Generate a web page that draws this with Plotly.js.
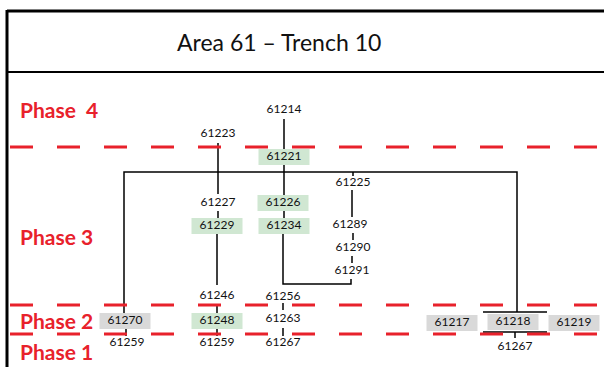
<!DOCTYPE html>
<html><head><meta charset="utf-8">
<script src="https://cdn.plot.ly/plotly-3.0.1.min.js"></script>
<style>html,body{margin:0;padding:0;background:#fff;}#chart{width:604px;height:367px;}</style>
</head><body><div id="chart"></div>
<script>
// Context units (Harris matrix)
const nodeLabels = ['61214','61223','61221','61227','61226','61229','61234','61225','61289','61290','61291','61246','61256','61270','61248','61263','61259','61259','61267','61217','61218','61219','61267'];
const nodeX = [284,218,284,218,283,217,284,353,350,353,352,217,283,125,217,283,127,217,283,452,513,574,515];
const nodeY = [110,134,157,203,203,226,226,183,225,248,271,296,297,321,321,319,343,343,343,323,322,323,347];
const nodeFill = ['','','green','','green','green','green','','','','','','','grey','green','','','','','grey','grey','grey',''];

// Stratigraphic relation lines (null separates segments)
const linkX = [284,284,null,218,218,null,284,284,null,284,284,null,218,218,null,
  124,124,517,517,null,353,353,null,352,352,null,353,353,null,352,352,null,
  283,283,351,351,null,217,217,null,217,217,null,217,217,null,126,126,null,
  283,283,null,283,283,null,483,547,null,483,547,null,515,515];
const linkY = [119,149,null,143,194,null,165,195,null,211,218,null,211,218,null,
  313,172,172,312,null,172,176,null,190,217,null,233,240,null,256,263,null,
  234,284,284,279,null,234,285,null,304,313,null,329,336,null,329,336,null,
  303,310,null,328,336,null,312,312,null,332,332,null,332,338];

// Phase labels and boundaries
const phaseLabels = ['Phase  4','Phase 3','Phase 2','Phase 1'];
const phaseY = [109,236,320,351];
const boundaryY = [147,305,334];
const title = 'Area 61 \u2013 Trench 10';

const traces = [];
traces.push({x:linkX, y:linkY, mode:'lines', line:{color:'#000', width:1.5}, hoverinfo:'skip', showlegend:false});
traces.push({x:nodeX, y:nodeY, mode:'text', text:nodeLabels, textposition:'middle center',
  textfont:{family:'Lato, "Open Sans", sans-serif', size:12, color:'#111'}, hoverinfo:'skip', showlegend:false});

const shapes = [];
// frame
shapes.push({type:'line', x0:7, x1:604, y0:11, y1:11, line:{color:'#000', width:3}});
shapes.push({type:'line', x0:7, x1:7, y0:10, y1:367, line:{color:'#000', width:3}});
shapes.push({type:'line', x0:7, x1:604, y0:72, y1:72, line:{color:'#000', width:2}});
// boxes
const fills = {green:'#D0E7D2', grey:'#D9D9D9'};
nodeLabels.forEach((l,i)=>{
  if(nodeFill[i]){
    shapes.push({type:'rect', layer:'below', x0:nodeX[i]-25.5, x1:nodeX[i]+25.5, y0:nodeY[i]-8, y1:nodeY[i]+8,
      fillcolor:fills[nodeFill[i]], line:{width:0}});
  }
});
// phase boundaries
boundaryY.forEach(y=>{
  shapes.push({type:'line', layer:'above', x0:10, x1:604, y0:y, y1:y, line:{color:'#E8212B', width:3, dash:'23px,24px'}});
});

const annotations = [];
annotations.push({x:279, y:42, text:title, showarrow:false, xanchor:'center', yanchor:'middle',
  font:{family:'Lato, "Open Sans", sans-serif', size:23, color:'#111'}});
phaseLabels.forEach((p,i)=>{
  annotations.push({x:18, y:phaseY[i], text:'<b>'+p.replace(/ /g,'&nbsp;')+'</b>', showarrow:false, xanchor:'left', yanchor:'middle',
    font:{family:'Lato, "Open Sans", sans-serif', size:21, color:'#E8212B'}});
});

const layout = {
  width:604, height:367, margin:{l:0,r:0,t:0,b:0},
  paper_bgcolor:'#fff', plot_bgcolor:'#fff',
  xaxis:{range:[0,604], visible:false, fixedrange:true},
  yaxis:{range:[367,0], visible:false, fixedrange:true},
  shapes:shapes, annotations:annotations, showlegend:false
};
Plotly.newPlot('chart', traces, layout, {staticPlot:true, displayModeBar:false});
</script></body></html>
